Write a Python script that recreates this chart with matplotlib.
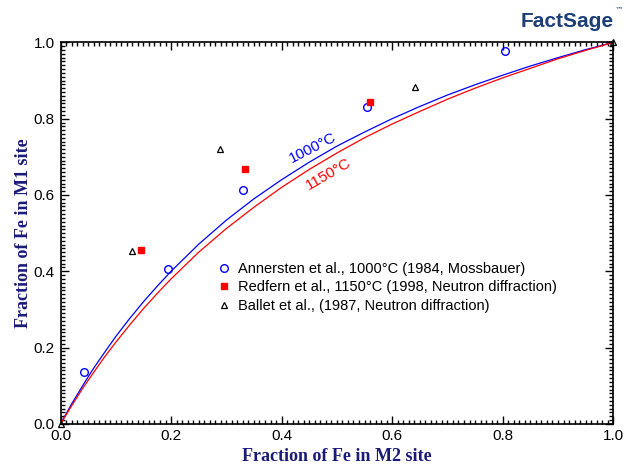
import numpy as np
import matplotlib.pyplot as plt
from matplotlib.ticker import MultipleLocator

# calculated curves
x_curve = [0.0, 0.02, 0.04, 0.06, 0.08, 0.1, 0.125, 0.15, 0.175, 0.2, 0.25,
           0.3, 0.35, 0.4, 0.45, 0.5, 0.55, 0.6, 0.65, 0.7, 0.75, 0.8, 0.85,
           0.9, 0.95, 1.0]
y_1000 = [0.0, 0.052, 0.100, 0.146, 0.188, 0.229, 0.276, 0.320, 0.361, 0.400,
          0.471, 0.534, 0.590, 0.640, 0.686, 0.728, 0.765, 0.800, 0.832, 0.862,
          0.889, 0.914, 0.938, 0.960, 0.981, 1.0]
y_1150 = [0.0, 0.047, 0.093, 0.135, 0.176, 0.214, 0.259, 0.302, 0.342, 0.380,
          0.450, 0.512, 0.568, 0.620, 0.667, 0.710, 0.750, 0.786, 0.819, 0.851,
          0.880, 0.907, 0.932, 0.957, 0.979, 1.0]

# experimental points
ann_x = [0.043, 0.195, 0.330, 0.555, 0.805]
ann_y = [0.135, 0.405, 0.613, 0.830, 0.978]
red_x = [0.145, 0.333, 0.560]
red_y = [0.456, 0.668, 0.843]
bal_x = [0.0, 0.130, 0.289, 0.642, 1.0]
bal_y = [0.0, 0.453, 0.720, 0.882, 1.0]

navy = '#1a1a78'

fig = plt.figure(figsize=(6.25, 4.71), dpi=100)
ax = fig.add_axes([0.0968, 0.100, 0.8844, 0.810])

ax.plot(x_curve, y_1000, color='#0000ff', lw=0.9)
ax.plot(x_curve, y_1150, color='#ff0000', lw=0.9)

ax.plot(ann_x, ann_y, 'o', mfc='none', mec='#0000ff', ms=5.5, mew=1.0,
        label='Annersten et al., 1000°C (1984, Mossbauer)', clip_on=False)
ax.plot(red_x, red_y, 's', mfc='#ff0000', mec='#ff0000', ms=4.5,
        label='Redfern et al., 1150°C (1998, Neutron diffraction)', clip_on=False)
ax.plot(bal_x, bal_y, '^', mfc='none', mec='black', ms=5, mew=0.9,
        label='Ballet et al., (1987, Neutron diffraction)', clip_on=False)

ax.text(0.457, 0.724, '1000°C', color='#0000ff', fontsize=11, rotation=27,
        ha='center', va='center', family='Liberation Sans')
ax.text(0.484, 0.655, '1150°C', color='#ff0000', fontsize=11, rotation=30,
        ha='center', va='center', family='Liberation Sans')

ax.set_xlim(0, 1)
ax.set_ylim(0, 1)
ax.xaxis.set_major_locator(MultipleLocator(0.2))
ax.yaxis.set_major_locator(MultipleLocator(0.2))
ax.xaxis.set_minor_locator(MultipleLocator(0.01))
ax.yaxis.set_minor_locator(MultipleLocator(0.01))
ax.tick_params(which='both', direction='in', top=True, right=True, width=1.0)
ax.tick_params(which='major', length=6, labelsize=11, pad=4)
ax.tick_params(which='minor', length=3)
for lab in ax.get_xticklabels() + ax.get_yticklabels():
    lab.set_family('Liberation Sans')
for sp in ax.spines.values():
    sp.set_linewidth(1.2)

ax.set_xlabel('Fraction of Fe in M2 site', family='Liberation Serif',
              fontweight='bold', fontsize=13, color=navy, labelpad=3)
ax.set_ylabel('Fraction of Fe in M1 site', family='Liberation Serif',
              fontweight='bold', fontsize=13, color=navy, labelpad=1)

leg = ax.legend(loc='upper left', bbox_to_anchor=(0.274, 0.44), frameon=False,
                prop={'family': 'Liberation Sans', 'size': 10.5},
                handlelength=0.8, handletextpad=0.6, labelspacing=0.3,
                borderaxespad=0)

# FactSage logo (approximate)
fig.text(0.982, 0.955, 'FactSage', color='#1c3f78', fontsize=15,
         fontweight='bold', family='Liberation Sans', ha='right', va='center')
fig.text(0.984, 0.978, '™', color='#1c3f78', fontsize=6,
         family='DejaVu Sans', ha='left', va='center')

fig.savefig('out.png', dpi=100)
